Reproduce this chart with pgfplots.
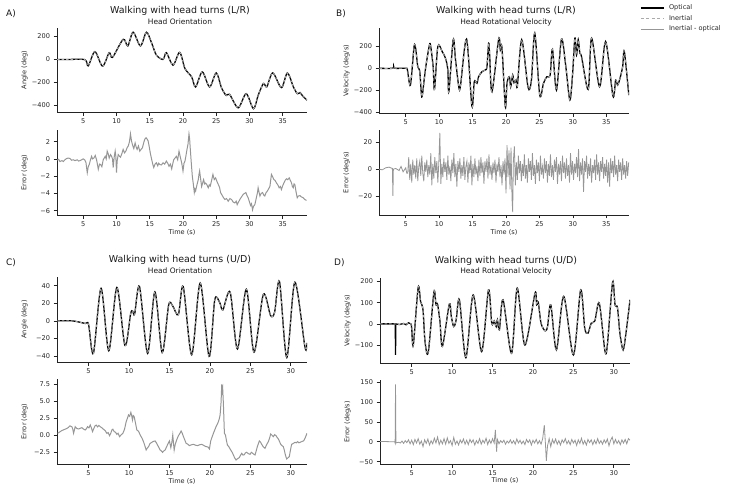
\documentclass[border=0pt]{standalone}
\usepackage{fontspec}
\setmainfont{DejaVu Sans}
\usepackage{pgfplots}
\usepackage{pgfplotstable}
\pgfplotsset{compat=1.18}
\definecolor{inert}{RGB}{170,170,170}
\definecolor{err}{RGB}{150,150,150}
\definecolor{spine}{RGB}{35,35,35}

\pgfplotstableread{
t v
1.05 0
3 0
5.25 -2
5.75 -56
6.75 68
7.9 -59
8.9 59
9.4 18
11.0 176
11.7 118
12.5 238
13.6 118
14.5 238
15.3 141
16.0 38
17.0 0
17.5 59
18.5 -50
19.5 62
20.3 -80
21.3 -153
21.9 -241
22.9 -109
24.0 -241
25.0 -118
25.8 -250
26.5 -315
27.0 -305
28.3 -423
29.5 -300
30.6 -432
31.3 -315
32.1 -210
32.6 -240
33.5 -118
34.8 -247
35.7 -118
36.6 -240
37.2 -300
37.6 -290
38.0 -320
38.65 -357
}\tAori

\pgfplotstableread{
t v
1.09 -0.15
1.3 -0.05
1.49 -0.3
1.8 -0.2
2.0 -0.3
2.24 -0.1
2.5 0.05
2.74 0.1
3.0 0.05
3.25 -0.15
3.5 -0.1
3.75 -0.2
4.1 -0.1
4.3 -0.25
4.5 -0.2
4.75 -0.1
5.0 0
5.2 -0.1
5.4 -0.4
5.6 -1.6
5.75 -0.9
5.9 -0.65
6.05 -0.2
6.25 0.3
6.4 0.0
6.6 0.1
6.8 0.4
7.0 -0.1
7.1 -0.5
7.26 -1.2
7.45 -0.6
7.6 -0.65
7.8 -0.9
8.0 -0.1
8.15 0.1
8.3 0.3
8.45 0.0
8.6 0.9
8.75 0.6
8.9 0.1
9.1 0.5
9.26 0.3
9.4 0.0
9.5 -1.0
9.65 0.2
9.8 0.9
9.9 0.3
10.0 -1.6
10.1 -0.2
10.26 0.5
10.45 0.3
10.6 0.2
10.8 0.6
11.0 1.1
11.2 0.7
11.4 0.9
11.6 1.3
11.77 1.5
11.95 2.0
12.1 2.9
12.25 2.1
12.4 1.65
12.6 1.2
12.8 1.85
12.95 1.4
13.1 1.1
13.3 1.5
13.5 0.9
13.7 1.1
13.9 1.3
14.1 1.9
14.27 2.3
14.45 2.45
14.6 2.3
14.75 2.1
14.9 1.5
15.1 0.6
15.3 -0.1
15.45 -0.6
15.6 -1.0
15.8 -0.6
16.0 -0.45
16.2 -0.8
16.35 -0.5
16.5 -0.65
16.75 -0.7
17.0 -0.45
17.25 -0.6
17.5 -0.25
17.7 -0.5
17.9 -0.85
18.1 -0.6
18.3 -1.15
18.45 -0.6
18.6 -0.1
18.8 0.1
19.0 0.3
19.2 -0.1
19.4 0.9
19.6 0.2
19.8 -0.45
19.9 -0.9
20.0 -1.4
20.15 -0.5
20.3 -0.25
20.45 0.4
20.6 1.1
20.75 1.7
20.9 2.9
21.0 2.3
21.1 1.1
21.25 -0.5
21.4 -2.0
21.55 -2.9
21.7 -3.9
21.8 -3.5
21.9 -3.7
22.1 -3.0
22.3 -2.4
22.4 -1.8
22.5 -1.4
22.65 -2.3
22.8 -3.2
22.95 -2.8
23.1 -2.4
23.25 -2.9
23.4 -2.8
23.6 -3.0
23.8 -3.35
23.95 -3.0
24.1 -3.15
24.3 -2.5
24.5 -1.8
24.7 -2.4
24.9 -2.2
25.1 -2.6
25.3 -2.95
25.5 -3.3
25.65 -3.9
25.8 -4.1
25.95 -4.3
26.1 -4.5
26.3 -4.7
26.55 -4.6
26.8 -4.9
27.05 -4.6
27.3 -4.7
27.55 -5.0
27.8 -5.1
28.0 -4.9
28.15 -5.3
28.35 -5.0
28.55 -4.7
28.8 -4.4
29.06 -4.1
29.25 -4.0
29.46 -3.9
29.6 -4.2
29.8 -4.5
30.0 -5.0
30.16 -5.4
30.3 -5.2
30.46 -5.9
30.6 -5.5
30.8 -5.3
30.95 -4.8
31.06 -4.4
31.2 -3.9
31.3 -3.35
31.45 -3.9
31.57 -4.3
31.75 -4.0
31.97 -3.9
32.15 -4.2
32.3 -4.3
32.5 -3.9
32.67 -3.75
32.85 -3.5
33.07 -3.2
33.2 -2.4
33.3 -1.8
33.5 -2.1
33.67 -2.4
33.85 -2.5
34.07 -2.8
34.25 -3.0
34.47 -3.35
34.65 -3.2
34.8 -3.55
35.0 -3.1
35.17 -2.8
35.35 -2.5
35.57 -2.3
35.75 -2.4
35.98 -2.2
36.15 -2.5
36.33 -2.8
36.45 -3.2
36.58 -3.35
36.7 -2.9
36.83 -3.0
37.0 -3.8
37.18 -4.5
37.35 -4.3
37.58 -4.25
37.8 -4.4
38.08 -4.5
38.3 -4.7
38.58 -4.8
}\tAerr

\pgfplotstableread{
t v
1.0 0
3.0 0
3.2 15
3.4 0
5.0 0
5.25 -15
5.7 -154
6.25 200
6.5 175
6.8 15
7.1 -30
7.4 -262
7.75 -108
8.0 15
8.5 200
8.7 215
9.1 15
9.3 -194
9.8 200
10.45 154
10.95 92
11.3 -15
11.45 -215
12.1 262
12.45 77
12.95 -175
13.2 -154
14.1 268
14.9 -348
15.25 -123
15.65 -138
15.9 -77
16.4 -31
16.9 -15
17.15 15
17.4 230
17.55 123
17.9 -215
18.9 268
19.15 169
19.4 185
19.9 -354
20.15 -138
20.5 -77
20.7 -169
21.0 -62
21.2 -132
21.5 -108
21.7 -163
22.35 262
23.3 -175
23.8 -108
24.3 323
25.05 -246
25.6 -138
26.1 -77
26.6 -62
26.95 175
27.55 -200
28.3 268
28.95 15
29.55 -292
29.95 -62
30.3 277
30.55 123
30.8 262
31.05 138
31.3 108
32.3 -194
32.8 277
34.0 -169
34.9 246
36.0 -255
36.4 -108
36.7 -154
37.05 -92
37.45 15
37.7 154
38.37 -246
}\tBvel

\pgfplotstableread{
t v
1.0 0
1.5 -0.5
2.0 1
2.5 1.5
3.0 0.5
3.08 -20
3.15 0
3.5 0.5
4.0 -1
4.3 2
4.6 -2
5.0 1
5.15 -3
5.30 -3
5.45 9
5.60 -8
5.75 4
5.90 -10
6.05 7
6.20 -4
6.35 3
6.50 -7
6.65 8
6.80 -9
6.95 2
7.10 6
7.25 -5
7.40 10
7.55 -3
7.70 -9
7.85 5
8.00 -2
8.15 7
8.30 -6
8.45 3
8.60 -4
8.75 12
8.90 -12
9.05 4
9.20 -7
9.35 9
9.50 -3
9.65 6
9.80 -10
9.95 5
10.10 27
10.25 -11
10.40 4
10.55 -6
10.70 8
10.85 -2
11.00 5
11.15 -8
11.30 10
11.45 -4
11.60 2
11.75 -9
11.90 7
12.05 -3
12.20 12
12.35 -6
12.50 4
12.65 -13
12.80 6
12.95 -2
13.10 8
13.25 -7
13.40 3
13.55 -5
13.70 9
13.85 -8
14.00 2
14.15 6
14.30 -10
14.45 5
14.60 -3
14.75 10
14.90 -12
15.05 4
15.20 -6
15.35 8
15.50 -4
15.65 2
15.80 -9
15.95 7
16.10 -5
16.25 9
16.40 -3
16.55 5
16.70 -11
16.85 6
17.00 -2
17.15 8
17.30 -7
17.45 11
17.60 -4
17.75 3
17.90 -8
18.05 5
18.20 -3
18.35 7
18.50 -10
18.65 4
18.80 -2
18.95 9
19.10 -6
19.25 3
19.40 -12
19.55 6
19.70 -4
19.85 8
20.00 -18
20.15 18
20.30 -6
20.45 14
20.60 -15
20.75 16
20.90 -22
21.00 -32
21.10 6
21.25 17
21.40 -12
21.55 5
21.70 -8
21.85 10
22.00 -3
22.15 6
22.30 -9
22.45 4
22.60 -5
22.75 11
22.90 -7
23.05 3
23.20 -10
23.35 8
23.50 -2
23.65 6
23.80 -8
23.95 12
24.10 -5
24.25 3
24.40 -11
24.55 7
24.70 -3
24.85 5
25.00 -9
25.15 10
25.30 -4
25.45 2
25.60 -7
25.75 8
25.90 -3
26.05 6
26.20 -10
26.35 4
26.50 -5
26.65 11
26.80 -6
26.95 3
27.10 -8
27.25 7
27.40 -2
27.55 9
27.70 -11
27.85 4
28.00 -4
28.15 6
28.30 -9
28.45 10
28.60 -3
28.75 5
28.90 -7
29.05 8
29.20 -5
29.35 3
29.50 -10
29.65 12
29.80 -4
29.95 6
30.10 -8
30.25 4
30.40 -3
30.55 9
30.70 -6
30.85 15
31.00 -9
31.15 5
31.30 -4
31.45 8
31.60 -17
31.75 6
31.90 -2
32.05 10
32.20 -7
32.35 4
32.50 -5
32.65 8
32.80 -10
32.95 3
33.10 -3
33.25 7
33.40 -8
33.55 11
33.70 -4
33.85 5
34.00 -9
34.15 6
34.30 -2
34.45 9
34.60 -7
34.75 4
34.90 -5
35.05 7
35.20 -10
35.35 5
35.50 -13
35.65 8
35.80 -3
35.95 6
36.10 -6
36.25 10
36.40 -4
36.55 3
36.70 -9
36.85 7
37.00 -2
37.15 5
37.30 -8
37.45 8
37.60 -4
37.75 3
37.90 -7
38.05 6
38.20 -5
38.35 5
}\tBerr

\pgfplotstableread{
t v
1.14 0
3.0 0
4.6 -3
5.0 -4
5.6 -37
6.55 37
7.5 -34
8.5 38
9.5 -28
10.2 8
10.45 11
10.7 8
11.3 39
12.3 -37
13.2 33
14.1 -36
14.9 18
15.4 17
16.1 7
16.7 39
17.75 -38.6
18.8 43
19.9 -40.5
20.6 24
21.2 21
21.6 12.5
22.5 32.6
23.4 -32
24.5 36
25.45 -35.6
26.6 30
27.5 6
28.0 10
28.6 44.7
29.5 -41.7
30.5 44
31.75 -30
32.0 -25
}\tCori

\pgfplotstableread{
t v
1.17 0.3
1.45 0.5
1.7 0.7
2.0 0.85
2.3 1.0
2.5 1.15
2.7 1.4
2.95 1.25
3.05 0.9
3.15 0.3
3.35 1.27
3.55 1.0
3.77 0.93
4.0 1.05
4.18 1.12
4.4 0.9
4.59 0.78
4.75 1.0
4.88 1.27
5.05 1.1
5.21 1.52
5.35 1.1
5.49 0.54
5.65 1.0
5.82 1.42
5.95 1.5
6.11 1.23
6.28 1.45
6.44 1.27
6.65 1.1
6.85 0.88
7.05 0.7
7.26 0.29
7.42 0.4
7.59 -0.05
7.75 0.3
7.88 0.78
8.0 0.9
8.17 0.54
8.33 0.45
8.5 0.15
8.65 0.3
8.83 -0.2
9.05 0.1
9.24 0.29
9.45 0.9
9.65 2.01
9.8 2.5
9.94 2.99
10.08 2.8
10.23 3.38
10.33 2.9
10.43 2.25
10.52 2.9
10.64 2.74
10.8 1.8
10.97 0.78
11.18 0.6
11.38 0.05
11.6 -0.4
11.79 -0.93
11.95 -1.5
12.12 -2.16
12.25 -1.9
12.41 -1.67
12.6 -1.2
12.82 -1.03
13.0 -0.9
13.23 -0.83
13.38 -1.1
13.52 -1.42
13.7 -1.8
13.85 -2.16
14.0 -2.3
14.14 -2.5
14.3 -2.3
14.47 -2.16
14.6 -1.8
14.75 -1.42
14.88 -1.1
15.0 -0.83
15.08 -1.3
15.17 -1.81
15.3 -1.0
15.41 0.05
15.5 -1.2
15.58 -2.16
15.7 -1.4
15.82 -0.93
15.95 -0.5
16.11 -0.05
16.3 0.3
16.44 0.64
16.58 0.3
16.73 -0.2
16.9 -0.7
17.06 -1.18
17.25 -1.3
17.47 -1.52
17.7 -1.4
17.96 -1.32
18.2 -1.45
18.46 -1.52
18.7 -1.4
18.99 -1.32
19.25 -1.5
19.53 -1.67
19.75 -1.7
19.94 -2.01
20.1 -0.83
20.25 -0.3
20.43 0.29
20.6 0.8
20.76 1.27
20.9 1.6
21.05 2.01
21.15 2.4
21.26 2.99
21.38 4.9
21.46 7.5
21.52 6.5
21.58 6.9
21.67 4.5
21.79 0.3
21.92 0.05
22.05 -0.8
22.16 -1.42
22.35 -1.7
22.57 -2.16
22.75 -2.5
22.9 -2.89
23.05 -3.3
23.23 -3.63
23.45 -3.4
23.64 -3.28
23.8 -2.9
23.93 -2.65
24.08 -2.9
24.22 -2.89
24.38 -2.6
24.55 -2.5
24.75 -2.7
24.96 -2.79
25.12 -2.5
25.29 -2.65
25.45 -2.8
25.58 -2.89
25.72 -2.3
25.86 -1.67
26.0 -1.2
26.11 -0.83
26.25 -1.0
26.4 -1.32
26.6 -1.7
26.81 -1.91
27.0 -1.4
27.22 -0.93
27.38 -0.4
27.51 0.2
27.68 0.0
27.84 -0.2
28.0 0.1
28.17 -0.05
28.3 -0.3
28.46 -0.54
28.6 -0.9
28.75 -1.32
28.9 -1.5
29.07 -1.67
29.18 -2.1
29.28 -2.65
29.38 -3.1
29.49 -3.48
29.65 -3.3
29.81 -3.14
29.95 -2.2
30.1 -1.32
30.3 -1.2
30.51 -1.03
30.68 -1.1
30.84 -0.93
31.0 -1.1
31.2 -1.0
31.4 -0.9
31.6 -0.8
31.8 -0.3
32.0 0.3
}\tCerr

\pgfplotstableread{
t v
1.08 0
2.95 0
3.5 -3
4.0 2
4.3 -4
4.6 5
4.9 0
5.0 -20
5.2 -100
5.8 172
6.1 106
6.4 66
6.65 -84
7.05 -134
7.75 150
8.0 90
8.2 93
8.5 10
8.8 -107
9.65 93
9.9 35
10.2 -13
10.5 19
10.9 114
11.7 -160
12.6 137
13.65 -131
14.5 161
14.9 3
15.2 14
15.45 -13
15.6 19
15.85 -28
16.3 114
17.35 -139
18.05 169
19.0 -100
20.25 145
20.45 90
20.65 103
21.0 3
21.5 -33
21.8 -13
22.2 90
22.9 -123
23.8 130
25.0 -147
25.9 161
26.4 -20
26.8 -44
27.2 3
27.65 14
28.2 98
28.9 -128
29.2 -100
29.85 197
30.15 90
30.45 77
30.75 -44
31.15 -123
31.5 -44
32.0 114
}\tDvel

\pgfplotstableread{
t v
2.97 0
3.0 -147
3.03 0
}\tDspike

\pgfplotstableread{
t v
1.08 1
2.0 0.5
2.9 0
2.95 -3
3.0 145
3.05 -3
3.2 -2
3.4 -1
3.6 -3
3.8 2
4.0 -4
4.2 3
4.4 -2
4.6 5
4.8 -5
5.0 4
5.2 -7
5.4 6
5.6 -3
5.8 8
6.0 -6
6.2 2
6.4 -12
6.6 5
6.8 -4
7.0 7
7.2 -8
7.4 3
7.6 -5
7.8 9
8.0 -3
8.2 12
8.4 -7
8.6 4
8.8 -5
9.0 8
9.2 -6
9.4 10
9.6 -4
9.8 3
10.0 -9
10.2 11
10.4 -6
10.6 2
10.8 -8
11.0 5
11.2 -3
11.4 7
11.6 -6
11.8 4
12.0 -7
12.2 6
12.4 -2
12.6 5
12.8 -8
13.0 3
13.2 -4
13.4 8
13.6 -6
13.8 4
14.0 -3
14.2 9
14.4 -7
14.6 5
14.8 -4
15.0 8
15.2 -3
15.35 30
15.5 -25
15.6 6
15.8 -5
16.0 3
16.2 -2
16.4 4
16.6 -6
16.8 2
17.0 -3
17.2 5
17.4 -4
17.6 3
17.8 -6
18.0 7
18.2 -3
18.4 4
18.6 -5
18.8 2
19.0 -7
19.2 6
19.4 -2
19.6 5
19.8 -8
20.0 4
20.2 -3
20.4 6
20.6 -5
20.8 3
21.0 -6
21.2 8
21.4 42
21.55 -8
21.65 -48
21.8 -10
22.0 8
22.2 -12
22.4 6
22.6 -4
22.8 7
23.0 -6
23.2 3
23.4 -8
23.6 5
23.8 -2
24.0 8
24.2 -5
24.4 3
24.6 -7
24.8 6
25.0 -3
25.2 4
25.4 -9
25.6 5
25.8 -4
26.0 9
26.2 -6
26.4 3
26.6 -8
26.8 6
27.0 -2
27.2 5
27.4 -7
27.6 4
27.8 -5
28.0 8
28.2 -4
28.4 3
28.6 -6
28.8 5
29.0 -3
29.2 7
29.4 -10
29.6 4
29.8 12
30.0 -5
30.2 6
30.4 -4
30.6 3
30.8 -7
31.0 5
31.2 -3
31.4 6
31.6 -5
31.8 8
32.0 4
}\tDerr

\pgfplotsset{
  panel/.style={
    scale only axis, width=250bp, height=85bp,
    anchor=north west,
    axis x line*=bottom, axis y line*=left,
    axis line style={-, spine, line width=0.9bp},
    tick align=outside, major tick length=3.5bp,
    tick style={spine, line width=0.7bp},
    ticklabel style={font=\fontsize{6.6}{7.5}\selectfont, text=black!85},
    label style={font=\fontsize{6.6}{7.5}\selectfont, text=black!85},
    ylabel style={at={(axis description cs:-0.13,0.5)}, anchor=center},
    xlabel style={at={(axis description cs:0.5,-0.2)}, anchor=center},
    xtick pos=bottom, ytick pos=left,
    clip=true,
  },
  lrx/.style={xmin=1.05, xmax=38.65, xtick={5,10,15,20,25,30,35}, xticklabels={5,10,15,20,25,30,35}},
  udx/.style={xmin=1.1, xmax=32, xtick={5,10,15,20,25,30}, xticklabels={5,10,15,20,25,30}},
  opt/.style={black, line width=1.3bp, smooth},
  ine/.style={inert, line width=0.8bp, dash pattern=on 2.5bp off 2bp, smooth},
  erl/.style={err, line width=1bp},
}

\begin{document}
\begin{tikzpicture}
% ---------- A top
\begin{axis}[panel, lrx, at={(57bp,-28bp)}, height=84bp,
  ymin=-460, ymax=275, ytick={-400,-200,0,200}, yticklabels={−400,−200,0,200},
  ylabel={Angle (deg)}]
\addplot[opt] table {\tAori};
\addplot[ine] table {\tAori};
\end{axis}
% ---------- A bottom
\begin{axis}[panel, lrx, at={(57bp,-130bp)},
  ymin=-6.5, ymax=3.35, ytick={-6,-4,-2,0,2}, yticklabels={−6,−4,−2,0,2},
  ylabel={Error (deg)}, xlabel={Time (s)}]
\addplot[erl] table {\tAerr};
\end{axis}
% ---------- B top
\begin{axis}[panel, xmin=1.0, xmax=38.4, xtick={5,10,15,20,25,30,35}, xticklabels={5,10,15,20,25,30,35},
  at={(379bp,-28bp)},
  ymin=-410, ymax=370, ytick={-400,-200,0,200}, yticklabels={−400,−200,0,200},
  ylabel={Velocity (deg/s)},
  legend style={at={(axis description cs:1.044,1.28)}, anchor=north west, draw=none, fill=none,
    font=\fontsize{6.6}{7.5}\selectfont, row sep=3.0bp, column sep=4bp, inner sep=0pt,
    nodes={inner sep=0.5bp, text=black!85}},
  legend cell align=left,
  legend image code/.code={\draw[#1] (0bp,0bp) -- (23bp,0bp);}]
\addplot[black, line width=1.3bp, smooth] table {\tBvel};
\addlegendentry{Optical}
\addplot[inert, line width=0.8bp, dash pattern=on 3bp off 2.5bp, smooth] table {\tBvel};
\addlegendentry{Inertial}
\addlegendimage{err, line width=1bp}
\addlegendentry{Inertial - optical}
\end{axis}
% ---------- B bottom
\begin{axis}[panel, xmin=1.0, xmax=38.4, xtick={5,10,15,20,25,30,35}, xticklabels={5,10,15,20,25,30,35},
  at={(379bp,-130bp)},
  ymin=-34.2, ymax=29.2, ytick={-20,0,20}, yticklabels={−20,0,20},
  ylabel={Error (deg/s)}, xlabel={Time (s)}]
\addplot[erl, line width=0.8bp] table {\tBerr};
\end{axis}
% ---------- C top
\begin{axis}[panel, udx, at={(57bp,-277bp)},
  ymin=-46.8, ymax=49.9, ytick={-40,-20,0,20,40}, yticklabels={−40,−20,0,20,40},
  ylabel={Angle (deg)}]
\addplot[opt] table {\tCori};
\addplot[ine] table {\tCori};
\end{axis}
% ---------- C bottom
\begin{axis}[panel, udx, at={(57bp,-379bp)},
  ymin=-4.22, ymax=8.28, ytick={-2.5,0,2.5,5,7.5}, yticklabels={−2.5,0.0,2.5,5.0,7.5},
  ylabel={Error (deg)}, xlabel={Time (s)}]
\addplot[erl] table {\tCerr};
\end{axis}
% ---------- D top
\begin{axis}[panel, xmin=1.08, xmax=32, xtick={5,10,15,20,25,30}, xticklabels={5,10,15,20,25,30},
  at={(380bp,-278bp)},
  ymin=-185, ymax=217, ytick={-100,0,100,200}, yticklabels={−100,0,100,200},
  ylabel={Velocity (deg/s)}]
\addplot[opt] table {\tDvel};
\addplot[black, line width=1.3bp] table {\tDspike};
\addplot[ine] table {\tDvel};
\end{axis}
% ---------- D bottom
\begin{axis}[panel, xmin=1.08, xmax=32, xtick={5,10,15,20,25,30}, xticklabels={5,10,15,20,25,30},
  at={(380bp,-380bp)}, height=84bp,
  ymin=-56, ymax=156, ytick={-50,0,50,100,150}, yticklabels={−50,0,50,100,150},
  ylabel={Error (deg/s)}, xlabel={Time (s)}]
\addplot[erl, line width=0.8bp] table {\tDerr};
\end{axis}

% titles
\begin{scope}[every node/.style={text=black!90}]
\node[anchor=base, font=\fontsize{9.5}{11}\selectfont] at (180bp,-13.3bp) {Walking with head turns (L/R)};
\node[anchor=base, font=\fontsize{7.5}{9}\selectfont] at (180bp,-24bp) {Head Orientation};
\node[anchor=base, font=\fontsize{9.5}{11}\selectfont] at (506bp,-13.3bp) {Walking with head turns (L/R)};
\node[anchor=base, font=\fontsize{7.5}{9}\selectfont] at (506bp,-24bp) {Head Rotational Velocity};
\node[anchor=base, font=\fontsize{9.5}{11}\selectfont] at (180bp,-262bp) {Walking with head turns (U/D)};
\node[anchor=base, font=\fontsize{7.5}{9}\selectfont] at (180bp,-273.3bp) {Head Orientation};
\node[anchor=base, font=\fontsize{9.5}{11}\selectfont] at (506bp,-263bp) {Walking with head turns (U/D)};
\node[anchor=base, font=\fontsize{7.5}{9}\selectfont] at (506bp,-273.3bp) {Head Rotational Velocity};
\node[anchor=base west, font=\fontsize{9}{10}\selectfont, inner sep=0pt] at (6bp,-16bp) {A)};
\node[anchor=base west, font=\fontsize{9}{10}\selectfont, inner sep=0pt] at (336bp,-16.5bp) {B)};
\node[anchor=base west, font=\fontsize{9}{10}\selectfont, inner sep=0pt] at (6bp,-265.5bp) {C)};
\node[anchor=base west, font=\fontsize{9}{10}\selectfont, inner sep=0pt] at (334bp,-265.5bp) {D)};
\end{scope}

\pgfresetboundingbox
\path[use as bounding box] (0,0) rectangle (733bp,-491bp);
\end{tikzpicture}
\end{document}
